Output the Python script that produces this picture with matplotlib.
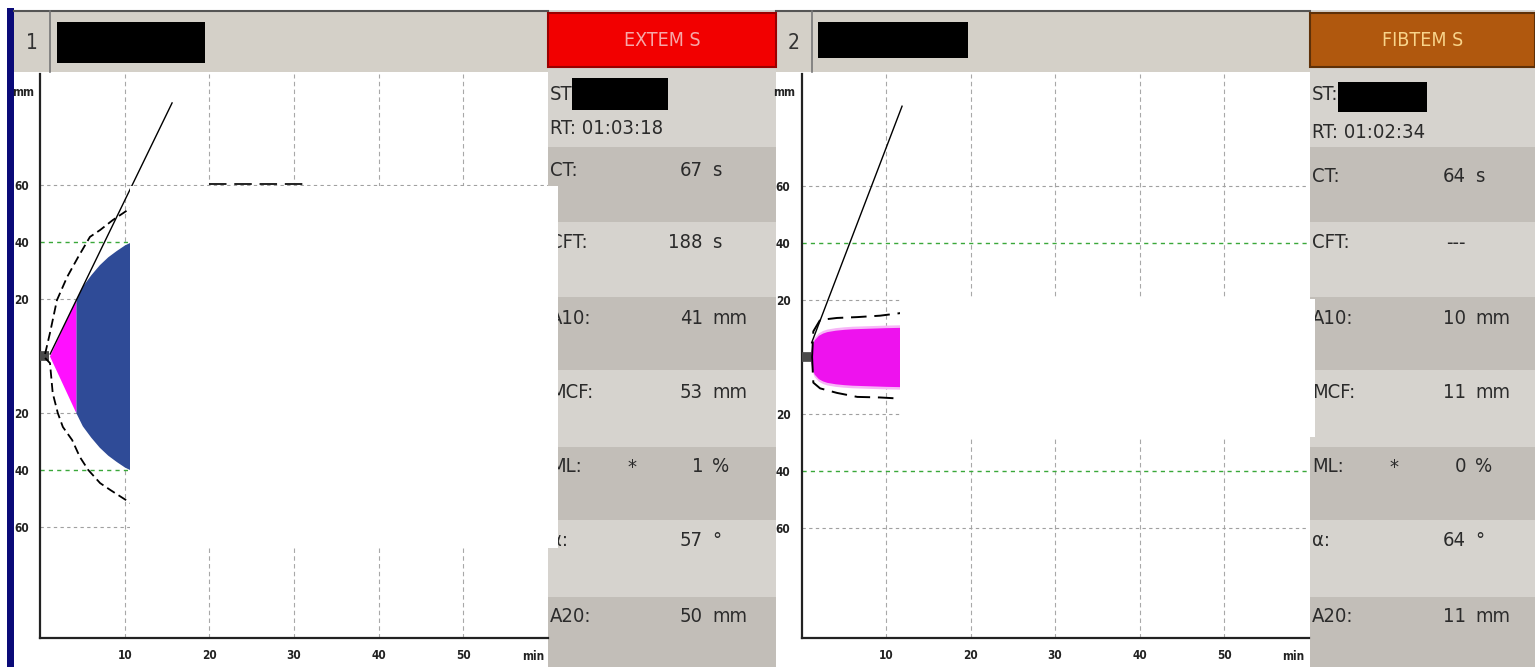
import matplotlib
matplotlib.use("Agg")
import matplotlib.pyplot as plt
from matplotlib.patches import Rectangle

# ---- data ----
# EXTEM S trace (half amplitude, mm) vs time (min)
extem_t = [1.12, 2.0, 3.0, 4.25, 5.0, 6.0, 7.0, 8.0, 9.0, 10.0, 10.7]
extem_amp = [0, 5.6, 12, 20, 24.5, 28.5, 32, 34.8, 37, 39, 40]
extem_cft_end = 4.25
# reference envelope (dashed)
extem_env_up_t = [0.6, 1.18, 2.0, 3.2, 4.5, 5.9, 7.1, 8.6, 10.7]
extem_env_up = [0.7, 8.1, 19.6, 27.7, 34.7, 41.8, 44.2, 47.7, 51.9]
extem_env_lo_t = [0.6, 1.18, 1.5, 2.1, 2.7, 3.8, 4.7, 5.7, 7.1, 8.3, 10.7]
extem_env_lo = [-0.7, -2.5, -13, -20, -24.9, -29.5, -35.4, -40, -44.6, -47, -51.6]
extem_plateau_t = [20, 31.5]
extem_plateau = [60.5, 60.5]
extem_tangent_t = [1.2, 15.6]
extem_tangent = [0.7, 88.8]
extem_ct = 1.12

# FIBTEM S trace
fib_t = [1.07, 1.2, 1.5, 2.0, 2.5, 3.0, 4.0, 5.0, 6.0, 8.0, 10.0, 11.7]
fib_amp = [0, 3.5, 6, 7.6, 8.4, 8.9, 9.4, 9.7, 9.9, 10.1, 10.3, 10.4]
fib_env_t = [1.25, 1.4, 2.2, 4.2, 6.6, 9.3, 11.7]
fib_env_up = [0, 9, 13, 13.7, 14, 14.5, 15.4]
fib_env_lo = [0, -9, -11, -12.6, -14, -14.2, -14.6]
fib_tangent_t = [1.2, 11.9]
fib_tangent = [5, 88]
fib_ct = 1.07

x_ticks = [10, 20, 30, 40, 50]
y_ticks = [-60, -40, -20, 20, 40, 60]
y_ticklabels = ["60", "40", "20", "20", "40", "60"]

extem_rows = ["CT:", "CFT:", "A10:", "MCF:", "ML:", "\u03b1:", "A20:"]
extem_vals = ["67", "188", "41", "53", "1", "57", "50"]
extem_units = ["s", "s", "mm", "mm", "%", "\u00b0", "mm"]
extem_rt = "RT: 01:03:18"

fib_rows = ["CT:", "CFT:", "A10:", "MCF:", "ML:", "\u03b1:", "A20:"]
fib_vals = ["64", "---", "10", "11", "0", "64", "11"]
fib_units = ["s", "", "mm", "mm", "%", "\u00b0", "mm"]
fib_rt = "RT: 01:02:34"

W, H = 1535, 667
FAM = "DejaVu Sans"
ST = "condensed"
TXT = "#2b2b2b"
LIGHT = "#d6d3ce"
DARK = "#c2beb8"
FS = 14.5

fig = plt.figure(figsize=(W / 100, H / 100), dpi=100)
fig.patch.set_facecolor("white")

bg = fig.add_axes([0, 0, 1, 1])
bg.set_xlim(0, W)
bg.set_ylim(H, 0)
bg.axis("off")
bg.set_zorder(0)


def rect(ax, x0, y0, x1, y1, color, ec="none", lw=0, z=1):
    ax.add_patch(Rectangle((x0, y0), x1 - x0, y1 - y0, facecolor=color,
                           edgecolor=ec, linewidth=lw, zorder=z))


def ptext(x, y, s, ha="left", size=FS, color=TXT):
    bg.text(x, y, s, ha=ha, va="center", fontsize=size, color=color,
            family=FAM, fontstretch=ST, zorder=3)


# left navy stripe
rect(bg, 7, 8, 14, H, "#0a0a78")

# headers of the two plots
for x0, num in [(14, "1"), (776, "2")]:
    rect(bg, x0, 10, x0 + 534, 72, "#d4d0c8")
    bg.plot([x0, x0 + 534], [11, 11], color="#555555", lw=1.5, zorder=2)
    bg.plot([x0 + 36, x0 + 36], [11, 72], color="#777777", lw=1.2, zorder=2)
    ptext(x0 + 18, 43, num, ha="center", size=15, color="#333333")

# side panels
row_edges = [147, 222, 297, 370, 447, 520, 597, 667]
row_text_y = [170, 243, 318, 392, 467, 540, 616]


def side_panel(x0, x1, title, tcolor, hcolor, hedge, rows, vals, units, rt,
               st, rt_y, ct_shift, num_x):
    rect(bg, x0, 10, x1, H, LIGHT)
    for i in range(len(row_edges) - 1):
        if i % 2 == 0:
            rect(bg, x0, row_edges[i], x1, row_edges[i + 1], DARK, z=1.5)
    rect(bg, x0, 13, x1, 67, hcolor, ec=hedge, lw=1.5, z=2)
    ptext((x0 + x1) / 2, 40, title, ha="center", size=14, color=tcolor)
    ptext(x0 + 2, 95, st)
    ptext(x0 + 2, rt_y, rt)
    for i, (lab, v, u) in enumerate(zip(rows, vals, units)):
        y = row_text_y[i] + (ct_shift if i == 0 else 0)
        ptext(x0 + 2, y, lab)
        ptext(num_x, y, v, ha="right")
        if u:
            ptext(num_x + 9, y, u)
        if lab == "ML:":
            ptext(x0 + 84, y, "*", ha="center")


side_panel(548, 776, "EXTEM S", "#f6a8a8", "#f20000", "#9a0000",
           extem_rows, extem_vals, extem_units, extem_rt, "ST", 128, 0, 703)
side_panel(1310, W, "FIBTEM S", "#f8d48a", "#b0580e", "#5e3008",
           fib_rows, fib_vals, fib_units, fib_rt, "ST:", 132, 7, 1466)


def trace_axes(x0, x1, y0, y1, center):
    ax = fig.add_axes([x0 / W, 1 - y1 / H, (x1 - x0) / W, (y1 - y0) / H])
    ax.set_zorder(1)
    ax.patch.set_visible(False)
    k = (x1 - x0) / 60.0
    s = 2.85
    ax.set_xlim(0, 60)
    ax.set_ylim(-(y1 - center) / s, (center - y0) / s)
    for sp in ["top", "right"]:
        ax.spines[sp].set_visible(False)
    for sp in ["left", "bottom"]:
        ax.spines[sp].set_color("#222222")
        ax.spines[sp].set_linewidth(1.6)
    ax.set_xticks(x_ticks)
    ax.set_xticklabels([str(v) for v in x_ticks], fontsize=8.5,
                       fontweight="bold", family=FAM, fontstretch=ST,
                       color="#222222")
    ax.set_yticks(y_ticks)
    ax.set_yticklabels(y_ticklabels, fontsize=8.5, fontweight="bold",
                       family=FAM, fontstretch=ST, color="#222222")
    ax.tick_params(length=0, pad=8)
    for v in x_ticks:
        ax.axvline(v, color="#a8a8a8", lw=0.8, dashes=(4, 3), zorder=0.5)
    for v in y_ticks:
        if abs(v) == 40:
            ax.axhline(v, color="#3aa83a", lw=1.0, dashes=(3, 3), zorder=0.6)
        else:
            ax.axhline(v, color="#a0a0a0", lw=0.8, dashes=(3, 3), zorder=0.5)
    ax.text(60 - 15 / k, -(y1 - center) / s - 19 / s, "min", ha="center",
            va="center", fontsize=8.5, fontweight="bold", family=FAM,
            fontstretch=ST, color="#222222", clip_on=False)
    ax.text(-17 / k, (center - y0) / s - 18 / s, "mm", ha="center",
            va="center", fontsize=8.5, fontweight="bold", family=FAM,
            fontstretch=ST, color="#222222", clip_on=False)
    return ax


ax1 = trace_axes(40, 548, 74, 638, 356)
ax2 = trace_axes(801.5, 1308.5, 74, 638, 357)

# EXTEM trace
n_cft = extem_t.index(extem_cft_end) + 1
up = extem_amp[:n_cft]
ax1.fill_between(extem_t[:n_cft], [-a for a in up], up, color="#ff10ff",
                 lw=0, zorder=2)
body = extem_amp[n_cft - 1:]
ax1.fill_between(extem_t[n_cft - 1:], [-a for a in body], body,
                 color="#2f4b97", lw=0, zorder=2)
ax1.plot([0, extem_ct], [0, 0], color="#4a4a4a", lw=7, solid_capstyle="butt",
         zorder=3)
ax1.plot(extem_env_up_t, extem_env_up, color="black", lw=1.3, dashes=(5, 2.5),
         zorder=4)
ax1.plot(extem_env_lo_t, extem_env_lo, color="black", lw=1.3, dashes=(5, 2.5),
         zorder=4)
ax1.plot(extem_plateau_t, extem_plateau, color="#222222", lw=1.4,
         dashes=(9, 4), zorder=4)
ax1.plot(extem_tangent_t, extem_tangent, color="black", lw=1.0, zorder=4)

# FIBTEM trace
ax2.fill_between(fib_t, [-a - 0.9 for a in fib_amp], [a + 0.9 for a in fib_amp],
                 color="#f7b6f7", lw=0, zorder=1.9)
ax2.fill_between(fib_t, [-a for a in fib_amp], fib_amp, color="#ee12ee",
                 lw=0, zorder=2)
ax2.plot([0, fib_ct], [0, 0], color="#4a4a4a", lw=7, solid_capstyle="butt",
         zorder=3)
ax2.plot(fib_env_t, fib_env_up, color="black", lw=1.4, dashes=(8, 4), zorder=4)
ax2.plot(fib_env_t, fib_env_lo, color="black", lw=1.4, dashes=(8, 4), zorder=4)
ax2.plot(fib_tangent_t, fib_tangent, color="black", lw=1.0, zorder=4)

# overlay: blanked-out areas and redactions
ov = fig.add_axes([0, 0, 1, 1])
ov.set_zorder(3)
ov.patch.set_visible(False)
ov.set_xlim(0, W)
ov.set_ylim(H, 0)
ov.axis("off")
rect(ov, 130, 185.5, 558, 548, "white")
rect(ov, 900, 299, 1315, 437, "white")
rect(ov, 57, 22, 205, 63, "black")
rect(ov, 572, 78, 668, 110, "black")
rect(ov, 818, 22, 968, 58, "black")
rect(ov, 1338, 82, 1427, 112, "black")

fig.savefig("out.png", dpi=100, facecolor="white")
